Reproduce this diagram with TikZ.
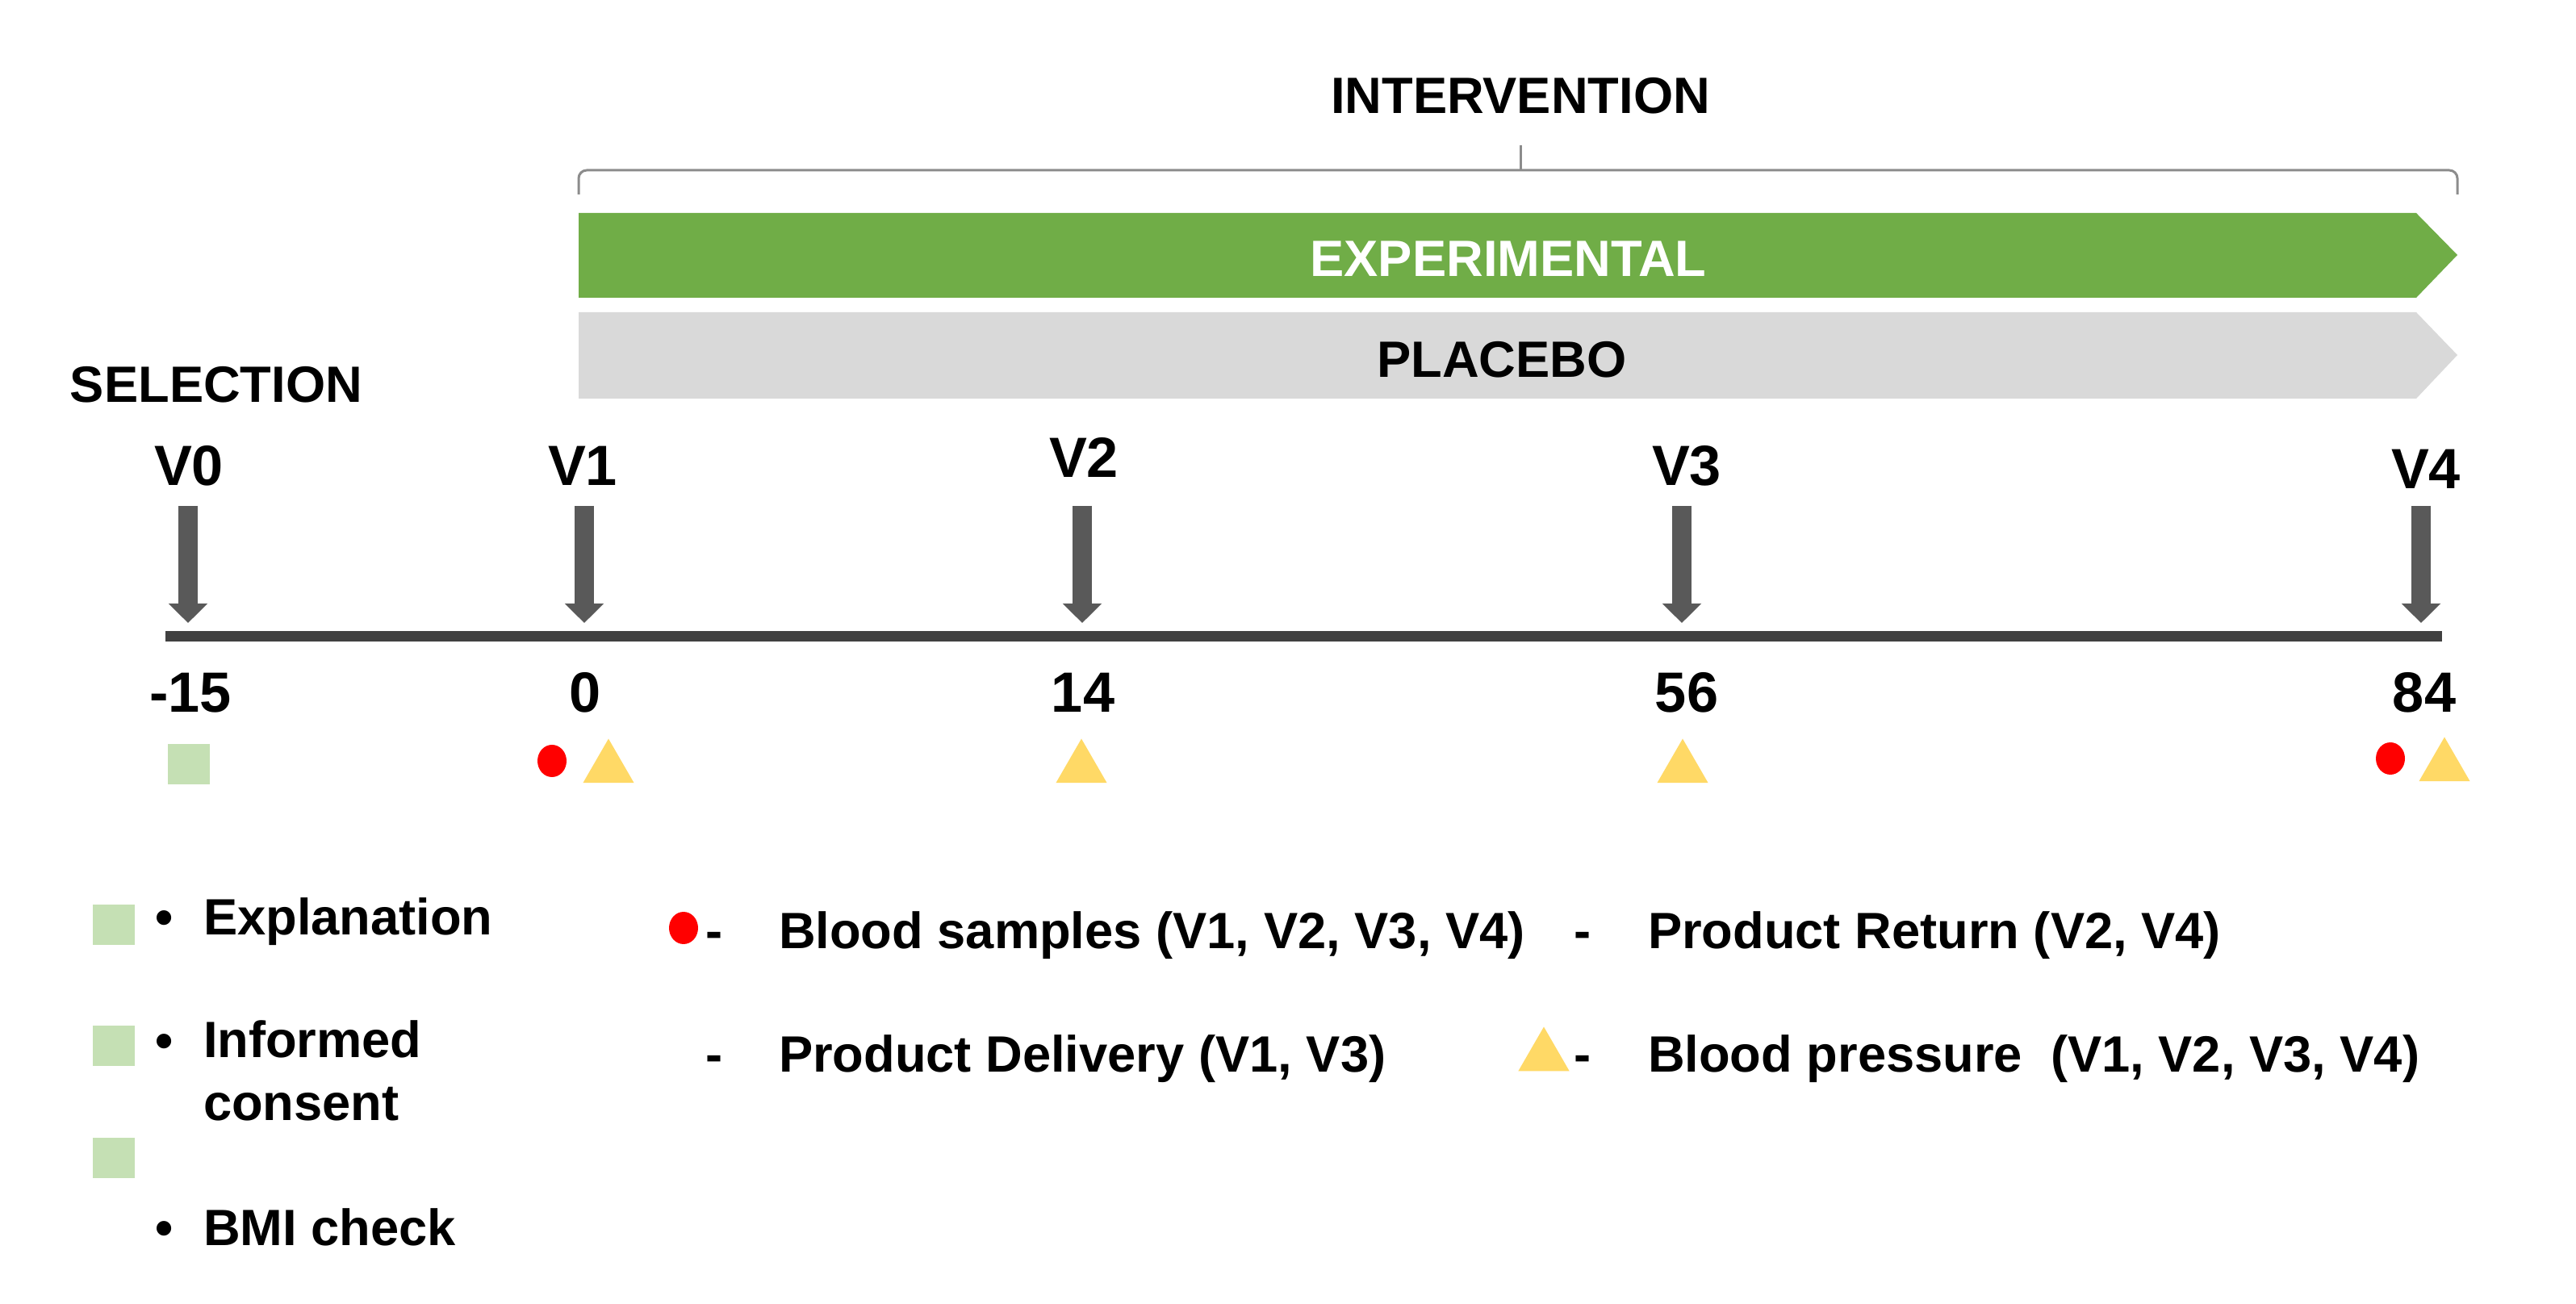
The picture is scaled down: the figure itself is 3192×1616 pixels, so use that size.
\documentclass[tikz,border=0pt]{standalone}
\usepackage{fontspec}
\setmainfont{Liberation Sans}
\usetikzlibrary{arrows.meta,shapes.geometric}
\definecolor{expgreen}{HTML}{70AD47}
\definecolor{plgray}{HTML}{D9D9D9}
\definecolor{selgreen}{HTML}{C5E0B4}
\definecolor{bpyellow}{HTML}{FFD966}
\definecolor{arrowgray}{HTML}{595959}
\definecolor{linegray}{HTML}{404040}
\definecolor{bracegray}{HTML}{8C8C8C}

\begin{document}
\begin{tikzpicture}[
  x=0.1mm, y=-0.1mm,
  every node/.style={inner sep=0pt, outer sep=0pt, font=\bfseries\fontsize{18}{22}\selectfont},
  big/.style={font=\bfseries\fontsize{20}{24}\selectfont, anchor=base},
  txt/.style={anchor=base west},
  visit/.style={draw=arrowgray, line width=2.4mm, -{Triangle[width=4.7mm,length=2.4mm]}, shorten >=1.7mm},
  selbox/.style={fill=selgreen, minimum width=5.2mm, minimum height=5mm},
  sample/.style={ellipse, fill=red, minimum width=3.6mm, minimum height=4mm},
  bp/.style={regular polygon, regular polygon sides=3, fill=bpyellow, minimum size=7.3mm}
]
\useasboundingbox[fill=white] (0,0) rectangle (3192,1616);

\node[anchor=base] (interv) at (1884,141) {INTERVENTION};
\draw[bracegray, line width=0.3mm, rounded corners=1mm] (717,241) |- (3045,211) -- (3045,241);
\draw[bracegray, line width=0.3mm] (1884,211) -- (1884,180);

\fill[expgreen] (717,264) -- (2994,264) -- (3045,316) -- (2994,369) -- (717,369) -- cycle;
\node[anchor=base, white] (exp) at (1869,343) {EXPERIMENTAL};
\fill[plgray] (717,387) -- (2994,387) -- (3045,440) -- (2994,494) -- (717,494) -- cycle;
\node[anchor=base] (plac) at (1861,468) {PLACEBO};

\node[anchor=base] (sel) at (268,499) {SELECTION};

\coordinate (tl) at (205,789);
\coordinate (tr) at (3026,789);
\draw[linegray, line width=1.3mm] (tl) -- (tr);

\foreach \n/\x/\lx/\vy/\d/\dx in {0/233/234/602/-15/236, 1/724/722/602/0/725,
    2/1341/1343/592/14/1342, 3/2084/2090/602/56/2090, 4/3000/3006/606/84/3004} {
  \node[big] (v\n) at (\lx,\vy) {V\n};
  \coordinate (a\n) at (\x,627);
  \coordinate (t\n) at (\x,789);
  \draw[visit] (a\n) -- (t\n);
  \node[big] (day\n) at (\dx,883) {\d};
}

\node[selbox] (m0) at (234,947) {};
\node[sample] (s1) at (684,943) {};
\node[bp] (p1) at (754,952) {};
\node[bp] (p2) at (1340,952) {};
\node[bp] (p3) at (2085,952) {};
\node[sample] (s4) at (2962,940) {};
\node[bp] (p4) at (3029,950) {};

\foreach \y [count=\i] in {1146,1296,1435}
  \node[selbox] (lsq\i) at (141,\y) {};
\node[anchor=base] (b1) at (204,1158) {\textbullet};
\node[txt] (expl) at (252,1158) {Explanation};
\node[anchor=base] (b2) at (204,1311) {\textbullet};
\node[txt, align=left] (cons) at (252,1388) {Informed\\consent};
\node[anchor=base] (b3) at (204,1543) {\textbullet};
\node[txt] (bmi) at (252,1543) {BMI check};

\node[sample] (lsam) at (847,1150) {};
\node[anchor=base] (sep1) at (885,1175) {-};
\node[txt] (blood) at (965,1175) {Blood samples (V1, V2, V3, V4)};
\node[anchor=base] (sep2) at (1961,1175) {-};
\node[txt] (ret) at (2042,1175) {Product Return (V2, V4)};
\node[anchor=base] (sep3) at (885,1328) {-};
\node[txt] (deliv) at (965,1328) {Product Delivery (V1, V3)};
\node[bp] (lbp) at (1913,1309) {};
\node[anchor=base] (sep4) at (1961,1328) {-};
\node[txt] (press) at (2042,1328) {Blood pressure\ \ (V1, V2, V3, V4)};
\end{tikzpicture}
\end{document}
